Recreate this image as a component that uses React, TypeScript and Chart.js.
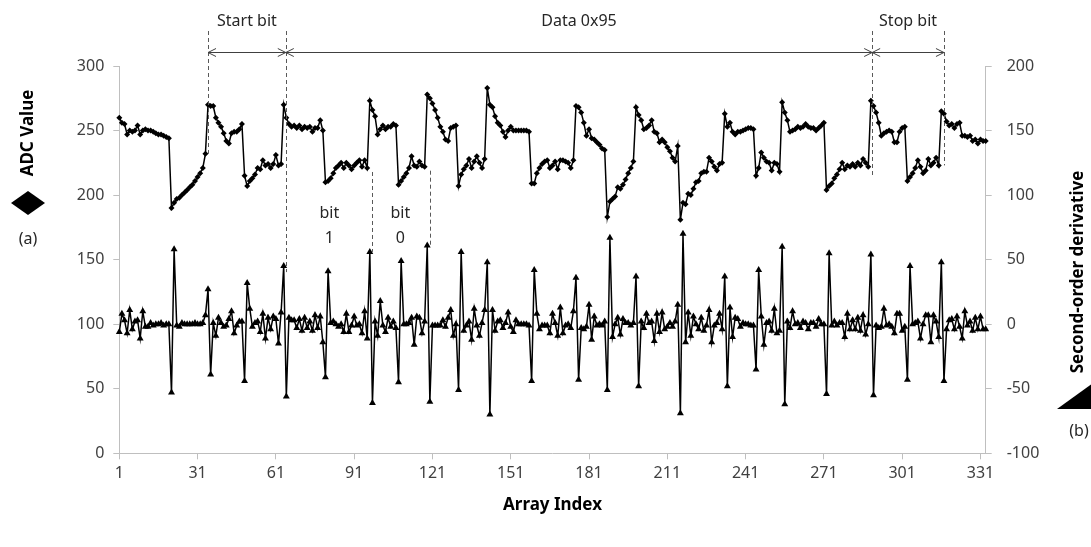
import { useEffect, useRef } from 'react';
import { Chart, registerables } from 'chart.js';

Chart.register(...registerables);

const FONT = '"Noto Sans", "Open Sans", sans-serif';

// ADC value (left axis), one value per array index 1..333
const adcValues = [
  260, 256, 255, 247, 250, 249, 250, 254, 247, 250,
  251, 250, 250, 249, 248, 247, 247, 246, 245, 244,
  190, 194, 197, 198, 200, 202, 204, 206, 208, 211,
  214, 217, 221, 232, 270, 269, 269, 260, 256, 253,
  248, 242, 240, 248, 249, 249, 251, 255, 215, 207,
  211, 213, 216, 221, 220, 227, 223, 224, 221, 224,
  231, 223, 224, 270, 260, 255, 253, 254, 252, 254,
  251, 253, 252, 253, 249, 252, 252, 258, 250, 210,
  211, 213, 217, 221, 223, 225, 221, 225, 223, 220,
  223, 225, 227, 222, 227, 221, 273, 266, 261, 247,
  251, 254, 251, 253, 253, 255, 254, 208, 211, 214,
  217, 221, 230, 223, 222, 226, 223, 222, 278, 275,
  271, 266, 260, 253, 249, 243, 242, 252, 253, 254,
  207, 216, 220, 223, 228, 221, 226, 230, 225, 221,
  228, 283, 270, 268, 261, 256, 254, 249, 245, 250,
  253, 250, 250, 250, 250, 250, 250, 249, 209, 209,
  217, 221, 224, 226, 227, 221, 223, 226, 220, 227,
  227, 226, 225, 221, 227, 269, 268, 264, 256, 246,
  251, 244, 243, 241, 239, 236, 235, 183, 195, 197,
  199, 206, 205, 208, 212, 217, 221, 226, 268, 262,
  258, 251, 252, 254, 258, 249, 248, 241, 243, 241,
  237, 234, 229, 226, 238, 181, 194, 193, 201, 200,
  205, 210, 211, 217, 218, 218, 229, 226, 222, 219,
  224, 225, 263, 253, 256, 249, 247, 249, 249, 250,
  251, 252, 252, 251, 215, 221, 233, 229, 226, 225,
  219, 225, 224, 218, 272, 264, 258, 249, 250, 251,
  253, 252, 253, 255, 253, 252, 252, 250, 252, 254,
  256, 204, 207, 209, 213, 216, 220, 225, 220, 223,
  222, 224, 222, 225, 223, 228, 225, 222, 273, 269,
  264, 256, 246, 248, 249, 250, 249, 241, 241, 249,
  252, 253, 211, 214, 217, 221, 227, 222, 217, 219,
  228, 223, 225, 229, 223, 265, 263, 257, 254, 255,
  252, 255, 256, 246, 246, 245, 246, 242, 243, 240,
  243, 242, 242,
];

// Second-order derivative (right axis)
const secondDerivative = [
  -6, 8, 3, -7, 11, -4, 2, 3, -11, 10,
  -2, -2, 1, -1, 0, 0, 1, -1, 0, 0,
  -53, 58, -1, -2, 1, 0, 0, 0, 0, 1,
  0, 0, 1, 7, 27, -39, 1, -9, 5, 1,
  -2, -1, 4, 10, -7, -1, 2, 2, -44, 32,
  12, -2, 1, 2, -6, 8, -11, 5, -4, 6,
  4, -15, 9, 45, -56, 5, 3, 3, -3, 4,
  -5, 5, -3, 2, -5, 7, -3, 6, -14, -41,
  41, 1, 2, 0, -2, 0, -6, 8, -6, -1,
  6, -1, 0, -7, 10, -11, 56, -61, 2, -9,
  18, -1, -6, 5, -2, 2, -3, -45, 49, 0,
  0, 1, 5, -16, 6, 5, -7, 2, 61, -60,
  -1, -1, -1, -1, 3, -2, 5, 11, -9, 0,
  -51, 56, -5, -1, 2, -12, 12, -1, -9, 1,
  11, 48, -70, 11, -5, 2, 3, -3, 1, 9,
  -2, -6, 3, 0, 0, 0, 0, -1, -44, 42,
  8, -4, -1, -1, -1, -7, 8, 1, -9, 13,
  -7, -1, 0, -3, 10, 36, -43, -3, -4, -2,
  15, -12, 6, -1, 0, -1, 2, -51, 67, -10,
  0, 5, -8, 4, 1, 1, -1, 1, 37, -48,
  2, -3, 8, 1, 2, -13, 8, -6, 9, -4,
  -2, 1, -2, 2, 15, -69, 70, -14, 9, -9,
  6, 0, -4, 5, -5, -1, 11, -14, -1, 1,
  8, -4, 37, -48, 13, -10, 5, 4, -2, 1,
  0, 0, -1, -1, -35, 42, 6, -16, 1, 2,
  -5, 12, -7, -5, 60, -62, 2, -3, 10, 0,
  1, -3, 2, 1, -4, 1, 1, -2, 4, 0,
  0, -54, 55, -1, 2, -1, 1, 1, -10, 8,
  -4, 3, -4, 5, -5, 7, -8, 0, 54, -55,
  -1, -3, -2, 12, -1, 0, -2, -7, 8, 8,
  -5, -2, -43, 45, 0, 1, 2, -11, 0, 7,
  7, -14, 7, 2, -10, 48, -44, -4, 3, 4,
  -4, 6, -2, -11, 10, -1, 2, -5, 5, -4,
  6, -4, -4,
];

const arrayIndex = adcValues.map((_, i) => String(i + 1));
const xTickLabels = ['1', '31', '61', '91', '121', '151', '181', '211', '241', '271', '301', '331'];

// Frame segments (array-index positions of the dashed boundaries)
const frameSegments = [
  { label: 'Start bit', from: 34, to: 63.8 },
  { label: 'Data 0x95', from: 63.8, to: 288.5 },
  { label: 'Stop bit', from: 288.5, to: 316 },
];
const bitMarks = [
  { label: ['bit', '1'], at: 80.5 },
  { label: ['bit', '0'], at: 107.7 },
];
const bitEdges = [97, 119];

const annotationPlugin = {
  id: 'frameAnnotations',
  afterDraw(chart: any) {
    const { ctx } = chart;
    const xs = chart.scales.x;
    const yl = chart.scales.y;
    const yr = chart.scales.y2;
    const px = (v: number) => xs.getPixelForValue(v);
    ctx.save();

    // dashed boundaries
    ctx.strokeStyle = '#595959';
    ctx.lineWidth = 1;
    ctx.setLineDash([4, 3]);
    const vline = (x: number, y1: number, y2: number) => {
      ctx.beginPath();
      ctx.moveTo(Math.round(x) + 0.5, y1);
      ctx.lineTo(Math.round(x) + 0.5, y2);
      ctx.stroke();
    };
    const topY = 31;
    vline(px(34), topY, yl.getPixelForValue(adcValues[33]));
    vline(px(63.8), topY, yr.getPixelForValue(secondDerivative[63]) + 6);
    vline(px(288.5), topY, yl.getPixelForValue(214));
    vline(px(316), topY, yl.getPixelForValue(adcValues[314]));
    bitEdges.forEach((i) => {
      vline(px(i), yl.getPixelForValue(adcValues[i - 2]) + 4, yr.getPixelForValue(secondDerivative[i - 1]));
    });
    ctx.setLineDash([]);

    // double arrows
    const ay = 52.5;
    ctx.strokeStyle = '#404040';
    ctx.lineWidth = 1;
    frameSegments.forEach((s) => {
      const a = px(s.from);
      const b = px(s.to);
      ctx.beginPath();
      ctx.moveTo(a, ay);
      ctx.lineTo(b, ay);
      ctx.moveTo(a + 8, ay - 4);
      ctx.lineTo(a, ay);
      ctx.lineTo(a + 8, ay + 4);
      ctx.moveTo(b - 8, ay - 4);
      ctx.lineTo(b, ay);
      ctx.lineTo(b - 8, ay + 4);
      ctx.stroke();
    });

    // segment labels
    ctx.fillStyle = '#262626';
    ctx.font = `16px ${FONT}`;
    ctx.textAlign = 'center';
    ctx.textBaseline = 'middle';
    frameSegments.forEach((s) => {
      ctx.fillText(s.label, (px(s.from) + px(s.to)) / 2, 21);
    });
    bitMarks.forEach((b) => {
      ctx.fillText(b.label[0], px(b.at), 213);
      ctx.fillText(b.label[1], px(b.at), 238);
    });

    // left axis title with diamond marker
    ctx.fillStyle = '#000';
    ctx.save();
    ctx.translate(28, 133);
    ctx.rotate(-Math.PI / 2);
    ctx.font = `bold 17px ${FONT}`;
    ctx.fillText('ADC Value', 0, 0);
    ctx.restore();
    ctx.beginPath();
    ctx.moveTo(28, 191);
    ctx.lineTo(45, 203);
    ctx.lineTo(28, 215);
    ctx.lineTo(11, 203);
    ctx.closePath();
    ctx.fill();
    ctx.font = `16px ${FONT}`;
    ctx.fillStyle = '#262626';
    ctx.fillText('(a)', 28, 239);

    // right axis title with triangle marker
    ctx.fillStyle = '#000';
    ctx.save();
    ctx.translate(1078, 272);
    ctx.rotate(-Math.PI / 2);
    ctx.font = `bold 17px ${FONT}`;
    ctx.fillText('Second-order derivative', 0, 0);
    ctx.restore();
    ctx.beginPath();
    ctx.moveTo(1057, 409);
    ctx.lineTo(1100, 409);
    ctx.lineTo(1100, 378);
    ctx.closePath();
    ctx.fill();
    ctx.font = `16px ${FONT}`;
    ctx.fillStyle = '#262626';
    ctx.fillText('(b)', 1079, 431);

    ctx.restore();
  },
};

export default function App() {
  const canvasRef = useRef<HTMLCanvasElement>(null);

  useEffect(() => {
    const canvas = canvasRef.current;
    if (!canvas) return;
    const axisColor = '#bfbfbf';
    const tickColor = '#404040';
    const chart = new Chart(canvas, {
      type: 'line',
      data: {
        labels: arrayIndex,
        datasets: [
          {
            label: 'ADC Value',
            data: adcValues,
            yAxisID: 'y',
            borderColor: '#000',
            backgroundColor: '#000',
            borderWidth: 1.5,
            pointStyle: 'rectRot',
            pointRadius: 3,
            pointBorderWidth: 0,
            tension: 0,
          },
          {
            label: 'Second-order derivative',
            data: secondDerivative,
            yAxisID: 'y2',
            borderColor: '#000',
            backgroundColor: '#000',
            borderWidth: 1.5,
            pointStyle: 'triangle',
            pointRadius: 4,
            pointBorderWidth: 0,
            tension: 0,
          },
        ],
      },
      options: {
        responsive: false,
        animation: false,
        events: [],
        layout: { padding: { top: 66, left: 0, right: 0, bottom: 0 } },
        plugins: { legend: { display: false }, tooltip: { enabled: false } },
        scales: {
          x: {
            type: 'category',
            offset: false,
            grid: { drawOnChartArea: false, drawTicks: true, tickLength: 6, color: axisColor },
            border: { color: axisColor, width: 1 },
            ticks: {
              autoSkip: false,
              maxRotation: 0,
              minRotation: 0,
              padding: 5,
              color: tickColor,
              font: { family: FONT, size: 16 },
              callback: function (this: any, value: any) {
                const lbl = this.getLabelForValue(value);
                return xTickLabels.includes(lbl) ? lbl : null;
              },
            },
            title: {
              display: true,
              text: 'Array Index',
              color: '#000',
              font: { family: FONT, size: 17, weight: 'bold' },
              padding: { top: 0, bottom: 32 },
            },
            afterFit: (s: any) => {
              s.height = 547 - 453.3;
            },
          },
          y: {
            position: 'left',
            min: 0,
            max: 300,
            grid: { drawOnChartArea: false, tickLength: 6, color: axisColor },
            border: { color: axisColor, width: 1 },
            ticks: { stepSize: 50, padding: 9, color: tickColor, font: { family: FONT, size: 16 } },
            afterFit: (s: any) => {
              s.width = 119.3;
            },
          },
          y2: {
            position: 'right',
            min: -100,
            max: 200,
            grid: { drawOnChartArea: false, tickLength: 6, color: axisColor },
            border: { color: axisColor, width: 1 },
            ticks: { stepSize: 50, padding: 15, color: tickColor, font: { family: FONT, size: 16 } },
            afterFit: (s: any) => {
              s.width = 1091 - 985.7;
            },
          },
        },
      },
      plugins: [annotationPlugin],
    } as any);
    return () => chart.destroy();
  }, []);

  return (
    <div style={{ position: 'absolute', left: 0, top: 0, width: 1091, height: 547, background: '#fff' }}>
      <canvas ref={canvasRef} width={1091} height={547} style={{ display: 'block' }} />
    </div>
  );
}
